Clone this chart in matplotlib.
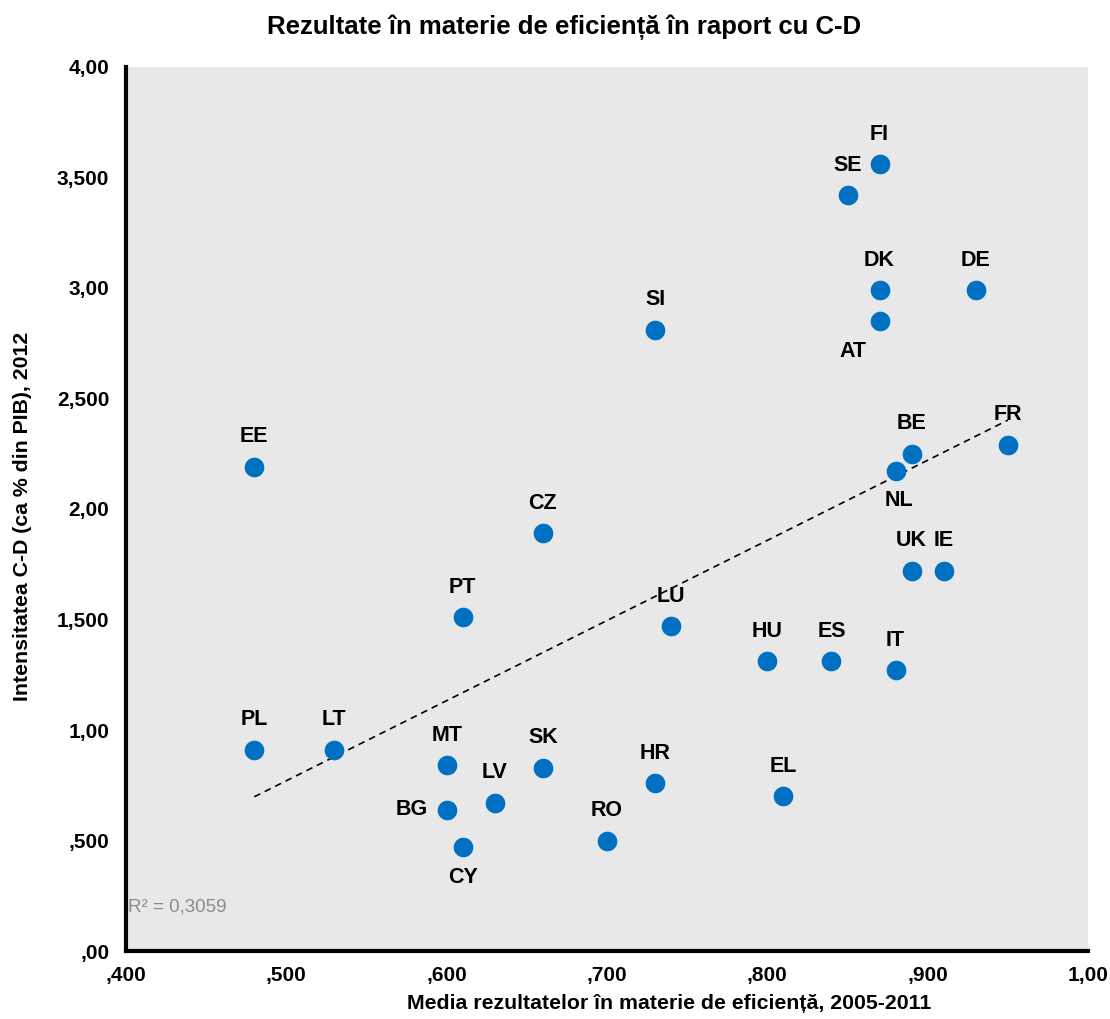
import numpy as np
import matplotlib.pyplot as plt

plt.rcParams['font.family'] = ['Liberation Sans', 'DejaVu Sans']

countries = ["EE", "PL", "LT", "PT", "MT", "BG", "CY", "LV", "SK", "CZ",
             "RO", "HR", "SI", "LU", "EL", "HU", "ES", "IT", "UK", "IE",
             "NL", "BE", "FR", "AT", "DK", "DE", "SE", "FI"]
efficiency = [0.48, 0.48, 0.53, 0.61, 0.60, 0.60, 0.61, 0.63, 0.66, 0.66,
              0.70, 0.73, 0.73, 0.74, 0.81, 0.80, 0.84, 0.88, 0.89, 0.91,
              0.88, 0.89, 0.95, 0.87, 0.87, 0.93, 0.85, 0.87]
rd_intensity = [2.19, 0.91, 0.91, 1.51, 0.84, 0.64, 0.47, 0.67, 0.83, 1.89,
                0.50, 0.76, 2.81, 1.47, 0.70, 1.31, 1.31, 1.27, 1.72, 1.72,
                2.17, 2.25, 2.29, 2.85, 2.99, 2.99, 3.42, 3.56]

x_ticks = [0.4, 0.5, 0.6, 0.7, 0.8, 0.9, 1.0]
x_tick_labels = [",400", ",500", ",600", ",700", ",800", ",900", "1,00"]
y_ticks = [0, 0.5, 1, 1.5, 2, 2.5, 3, 3.5, 4]
y_tick_labels = [",00", ",500", "1,00", "1,500", "2,00", "2,500", "3,00", "3,500", "4,00"]

# label placement in pixels relative to the point (default: above)
offsets = {"BG": (-35, 0), "CY": (0, -30), "NL": (3, -29), "AT": (-27, -30)}

fig = plt.figure(figsize=(11.1, 10.19), dpi=100)
ax = fig.add_axes([0.1135, 0.0667, 0.8667, 0.8676])
ax.set_facecolor("#e8e8e8")

ax.scatter(efficiency, rd_intensity, s=200, color="#0070c0", zorder=3, linewidths=0)

for name, xv, yv in zip(countries, efficiency, rd_intensity):
    dx, dy = offsets.get(name, (0, 30))
    ax.annotate(name, (xv, yv), xytext=(dx, dy), textcoords="offset pixels",
                ha="center", va="center", fontsize=15.5, fontweight="bold", zorder=4)

# linear trend line
coef = np.polyfit(efficiency, rd_intensity, 1)
xs = np.array([min(efficiency), max(efficiency)])
ax.plot(xs, np.polyval(coef, xs), color="black", linestyle=(0, (4, 3)), linewidth=1.2, zorder=2)

ax.text(0.401, 0.2, "R² = 0,3059", color="#8c8c8c", fontsize=13.5, ha="left", va="center")

ax.set_xlim(0.4, 1.0)
ax.set_ylim(0, 4)
ax.set_xticks(x_ticks)
ax.set_xticklabels(x_tick_labels, fontsize=15, fontweight="bold")
ax.set_yticks(y_ticks)
ax.set_yticklabels(y_tick_labels, fontsize=15, fontweight="bold")
ax.tick_params(axis="y", length=0, pad=12)
ax.tick_params(axis="x", length=0, pad=11)

for side in ["top", "right"]:
    ax.spines[side].set_visible(False)
for side in ["left", "bottom"]:
    ax.spines[side].set_linewidth(3)

ax.set_xlabel("Media rezultatelor în materie de eficiență, 2005-2011", fontsize=15.3,
              fontweight="bold")
ax.xaxis.set_label_coords(0.565, -0.049)
ax.set_ylabel("Intensitatea C-D (ca % din PIB), 2012", fontsize=15.3, fontweight="bold")
ax.yaxis.set_label_coords(-0.108, 0.492)
ax.yaxis.label.set_va("center")
fig.text(0.508, 0.9735, "Rezultate în materie de eficiență în raport cu C-D", ha="center",
         va="center", fontsize=18.5, fontweight="bold")

fig.savefig("out.png", dpi=100)
